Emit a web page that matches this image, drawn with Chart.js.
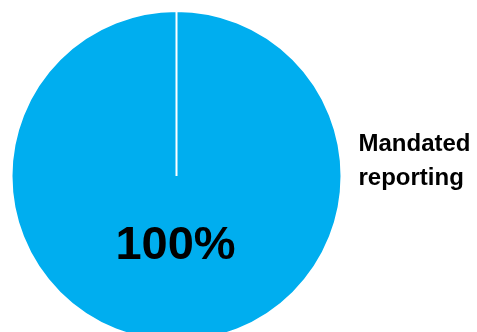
<!DOCTYPE html>
<html>
<head>
<meta charset="utf-8">
<script src="https://cdn.jsdelivr.net/npm/chart.js@4/dist/chart.umd.min.js"></script>
<style>
  html, body { margin: 0; padding: 0; background: #fff; overflow: hidden; }
  #wrap { width: 477px; height: 332px; overflow: hidden; }
</style>
</head>
<body>
<div id="wrap"><canvas id="pie" width="477" height="344"></canvas></div>
<script>
const labels = ['Mandated reporting'];
const shares = [100];
const colors = ['#00AEEF'];

const FONT = '"Liberation Sans", Arial, Helvetica, sans-serif';

// value inside the slice, category name to the right of the pie
const sliceLabels = {
    id: 'sliceLabels',
    afterDatasetsDraw(chart) {
        const ctx = chart.ctx;
        const arc = chart.getDatasetMeta(0).data[0];
        const r = arc.outerRadius;

        ctx.save();
        ctx.fillStyle = '#000';
        ctx.textAlign = 'center';
        ctx.textBaseline = 'alphabetic';
        ctx.font = 'bold 47px ' + FONT;
        ctx.fillText(shares[0] + '%', arc.x - 1, arc.y + r * 0.5);

        ctx.textAlign = 'left';
        ctx.font = 'bold 24px ' + FONT;
        const words = labels[0].split(' ');
        const left = arc.x + r + 17;
        ctx.fillText(words[0], left, arc.y - 25);
        ctx.fillText(words[1], left, arc.y + 9);
        ctx.restore();
    }
};

new Chart(document.getElementById('pie'), {
    type: 'pie',
    data: {
        labels: labels,
        datasets: [{
            data: shares,
            backgroundColor: colors,
            borderColor: '#fff',
            borderWidth: 2
        }]
    },
    options: {
        responsive: false,
        animation: false,
        layout: { padding: { left: 10.5, top: 10, right: 134.5, bottom: 2 } },
        plugins: {
            legend: { display: false },
            tooltip: { enabled: false }
        }
    },
    plugins: [sliceLabels]
});
</script>
</body>
</html>
